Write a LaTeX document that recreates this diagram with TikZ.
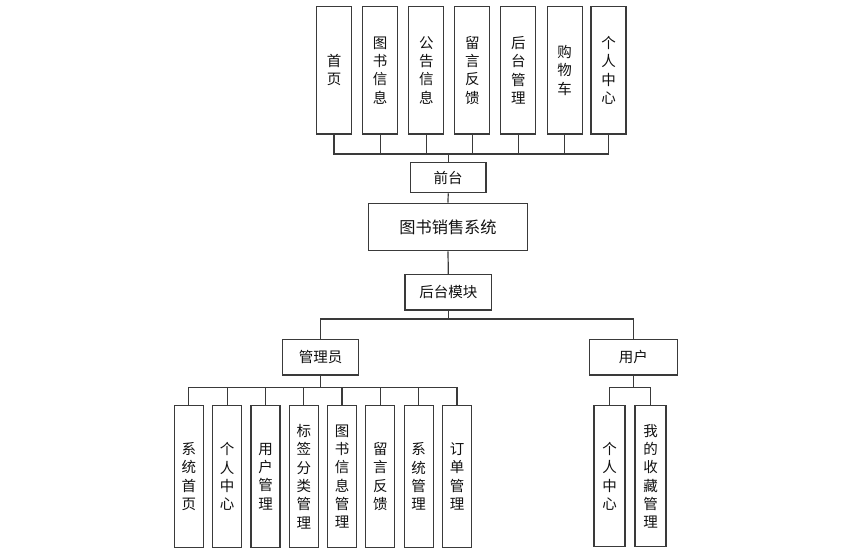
\documentclass[tikz,border=0pt]{standalone}
\usepackage{fontspec}
\setmainfont{Noto Sans CJK SC}
\usepackage{xcolor}
\usepackage{tikz}
\usetikzlibrary{positioning,calc}
\definecolor{lnk}{HTML}{3A3A3A}
\definecolor{txk}{HTML}{111111}

\begin{document}
\begin{tikzpicture}[x=1pt,y=-1pt,
  box/.style={draw=lnk,line width=1.2pt,fill=white,text=txk,inner sep=0pt,
    font=\fontsize{14.5}{18.3}\selectfont},
  vbox/.style={box,minimum width=35pt,minimum height=127.3pt,align=center},
  lbox/.style={box,minimum width=29pt,minimum height=141.6pt,align=center},
  rbox/.style={box,minimum width=31pt,minimum height=141pt,align=center},
  link/.style={draw=lnk,line width=1.2pt}]
  \useasboundingbox (0,0) rectangle (850,555);

  \foreach \n/\x/\t in {t1/334/{首\\页},t2/380.2/{图\\书\\信\\息},t3/426.3/{公\\告\\信\\息},
      t4/472.3/{留\\言\\反\\馈},t5/518.3/{后\\台\\管\\理},t6/564.7/{购\\物\\车},t7/608.5/{个\\人\\中\\心}}
    \node[vbox] (\n) at (\x,70.3) {\t};

  \node[box,minimum width=75.7pt,minimum height=30pt] (qiantai) at (448.2,177.7) {前台};
  \node[box,minimum width=159.4pt,minimum height=47.4pt,font=\fontsize{16.2}{19}\selectfont] (sys) at (448,227) {图书销售系统};
  \node[box,minimum width=86.7pt,minimum height=35.7pt] (houtai) at (448.3,292.2) {后台模块};
  \node[box,minimum width=76pt,minimum height=35.7pt] (admin) at (320.7,357.2) {管理员};
  \node[box,minimum width=88pt,minimum height=35.7pt] (user) at (633.3,357.2) {用户};

  \foreach \n/\x/\t in {a1/188.8/{系\\统\\首\\页},a2/227.2/{个\\人\\中\\心},a3/265.5/{用\\户\\管\\理},
      a4/303.8/{标\\签\\分\\类\\管\\理},a5/342/{图\\书\\信\\息\\管\\理},a6/380.3/{留\\言\\反\\馈},
      a7/418.7/{系\\统\\管\\理},a8/457/{订\\单\\管\\理}}
    \node[lbox] (\n) at (\x,476.5) {\t};

  \node[rbox] (u1) at (609.5,476.2) {个\\人\\中\\心};
  \node[rbox] (u2) at (650.5,476.2) {我\\的\\收\\藏\\管\\理};

  \coordinate (qbus) at (448.2,154);
  \coordinate (hbus) at (448.3,319);
  \coordinate (abus) at (320.7,387.7);
  \coordinate (ubus) at (633.3,387.7);

  \foreach \n in {t1,t2,t3,t4,t5,t6,t7}
    \draw[link] (\n.south) |- (qbus);
  \draw[link] (qbus) -- (qiantai.north);
  \draw[link] (qiantai.south) -- (sys.north);
  \draw[link] (sys.south) -- (houtai.north);
  \draw[link] (houtai.south) -- (hbus) -| (admin.north);
  \draw[link] (hbus) -| (user.north);
  \foreach \n in {a1,a2,a3,a4,a5,a6,a7,a8}
    \draw[link] (admin.south) -- (abus) -| (\n.north);
  \foreach \n in {u1,u2}
    \draw[link] (user.south) -- (ubus) -| (\n.north);
\end{tikzpicture}
\end{document}
